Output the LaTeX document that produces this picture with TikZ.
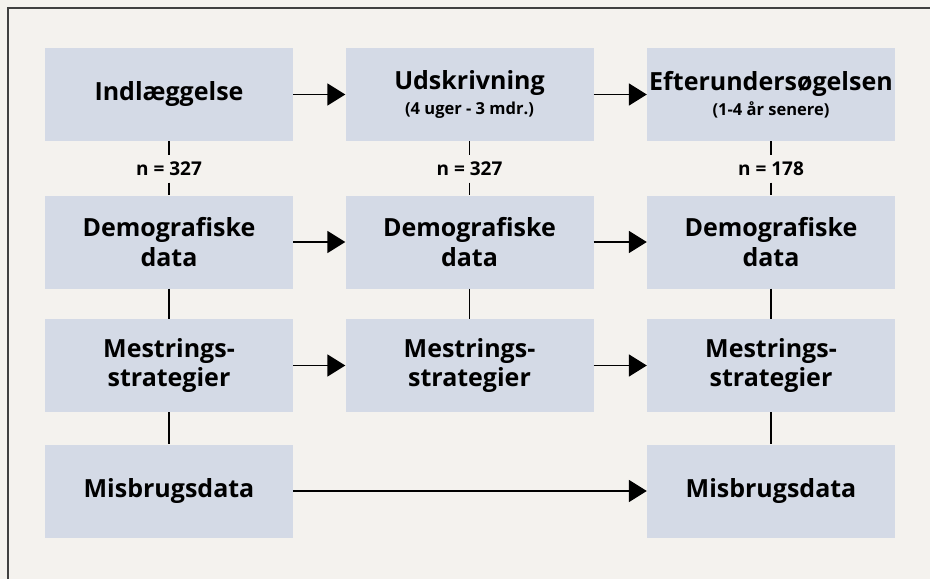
\documentclass[tikz,border=0pt]{standalone}
\usepackage{fontspec}
\setmainfont{Open Sans}
\usetikzlibrary{arrows.meta}
\definecolor{paper}{HTML}{F4F2EE}
\definecolor{boxfill}{HTML}{D4DAE6}
\newcommand{\sub}[1]{{\fontsize{16.5}{19}\selectfont #1}}
\begin{document}
\begin{tikzpicture}[x=1pt,y=-1pt,
    box/.style={fill=boxfill, minimum width=248pt, minimum height=93pt,
      inner sep=0pt, align=center, font=\bfseries\fontsize{25}{30}\selectfont},
    flow/.style={line width=1.9pt, -{Triangle[length=18pt,width=22pt]}},
    link/.style={line width=1.1pt},
    count/.style={font=\bfseries\fontsize{19}{23}\selectfont,
      inner sep=0pt, minimum height=27pt}]
  \fill[paper] (0,0) rectangle (930,579);
  \useasboundingbox (0,0) rectangle (930,579);
  \draw[line width=1.6pt, black!75] (930,8) -- (8,8) -- (8,579);

  % first column
  \node[box] (ind)   at (169,94.5) {Indlæggelse};
  \node[count] (n1)  at (169,169)  {n = 327};
  \node[box] (demo1) at (169,242)  {Demografiske\\data};
  \node[box] (mest1) at (169,365.5) {Mestrings-\\strategier};
  \node[box] (misb1) at (169,491)  {Misbrugsdata};

  % second column
  \node[box] (udsk)  at (469.5,94.5) {Udskrivning\\[-5pt]\sub{(4 uger - 3 mdr.)}};
  \node[count] (n2)  at (469.5,169)  {n = 327};
  \node[box] (demo2) at (469.5,242)  {Demografiske\\data};
  \node[box] (mest2) at (469.5,365.5) {Mestrings-\\strategier};

  % third column
  \node[box] (efter) at (771,94.5) {Efterundersøgelsen\\[-5pt]\sub{(1-4 år senere)}};
  \node[count] (n3)  at (771,169)  {n = 178};
  \node[box] (demo3) at (771,242)  {Demografiske\\data};
  \node[box] (mest3) at (771,365.5) {Mestrings-\\strategier};
  \node[box] (misb3) at (771,491)  {Misbrugsdata};

  % vertical links
  \foreach \top/\cnt/\bot in {ind/n1/demo1, udsk/n2/demo2, efter/n3/demo3} {
    \draw[link] (\top.south) -- (\cnt.north);
    \draw[link] (\cnt.south) -- (\bot.north);
  }
  \draw[link] (demo1) -- (mest1);
  \draw[link] (mest1) -- (misb1);
  \draw[link] (demo2) -- (mest2);
  \draw[link] (demo3) -- (mest3);
  \draw[link] (mest3) -- (misb3);

  % arrows between the times
  \draw[flow] (ind) -- (udsk);
  \draw[flow] (udsk) -- (efter);
  \draw[flow] (demo1) -- (demo2);
  \draw[flow] (demo2) -- (demo3);
  \draw[flow] (mest1) -- (mest2);
  \draw[flow] (mest2) -- (mest3);
  \draw[flow] (misb1) -- (misb3);
\end{tikzpicture}
\end{document}
